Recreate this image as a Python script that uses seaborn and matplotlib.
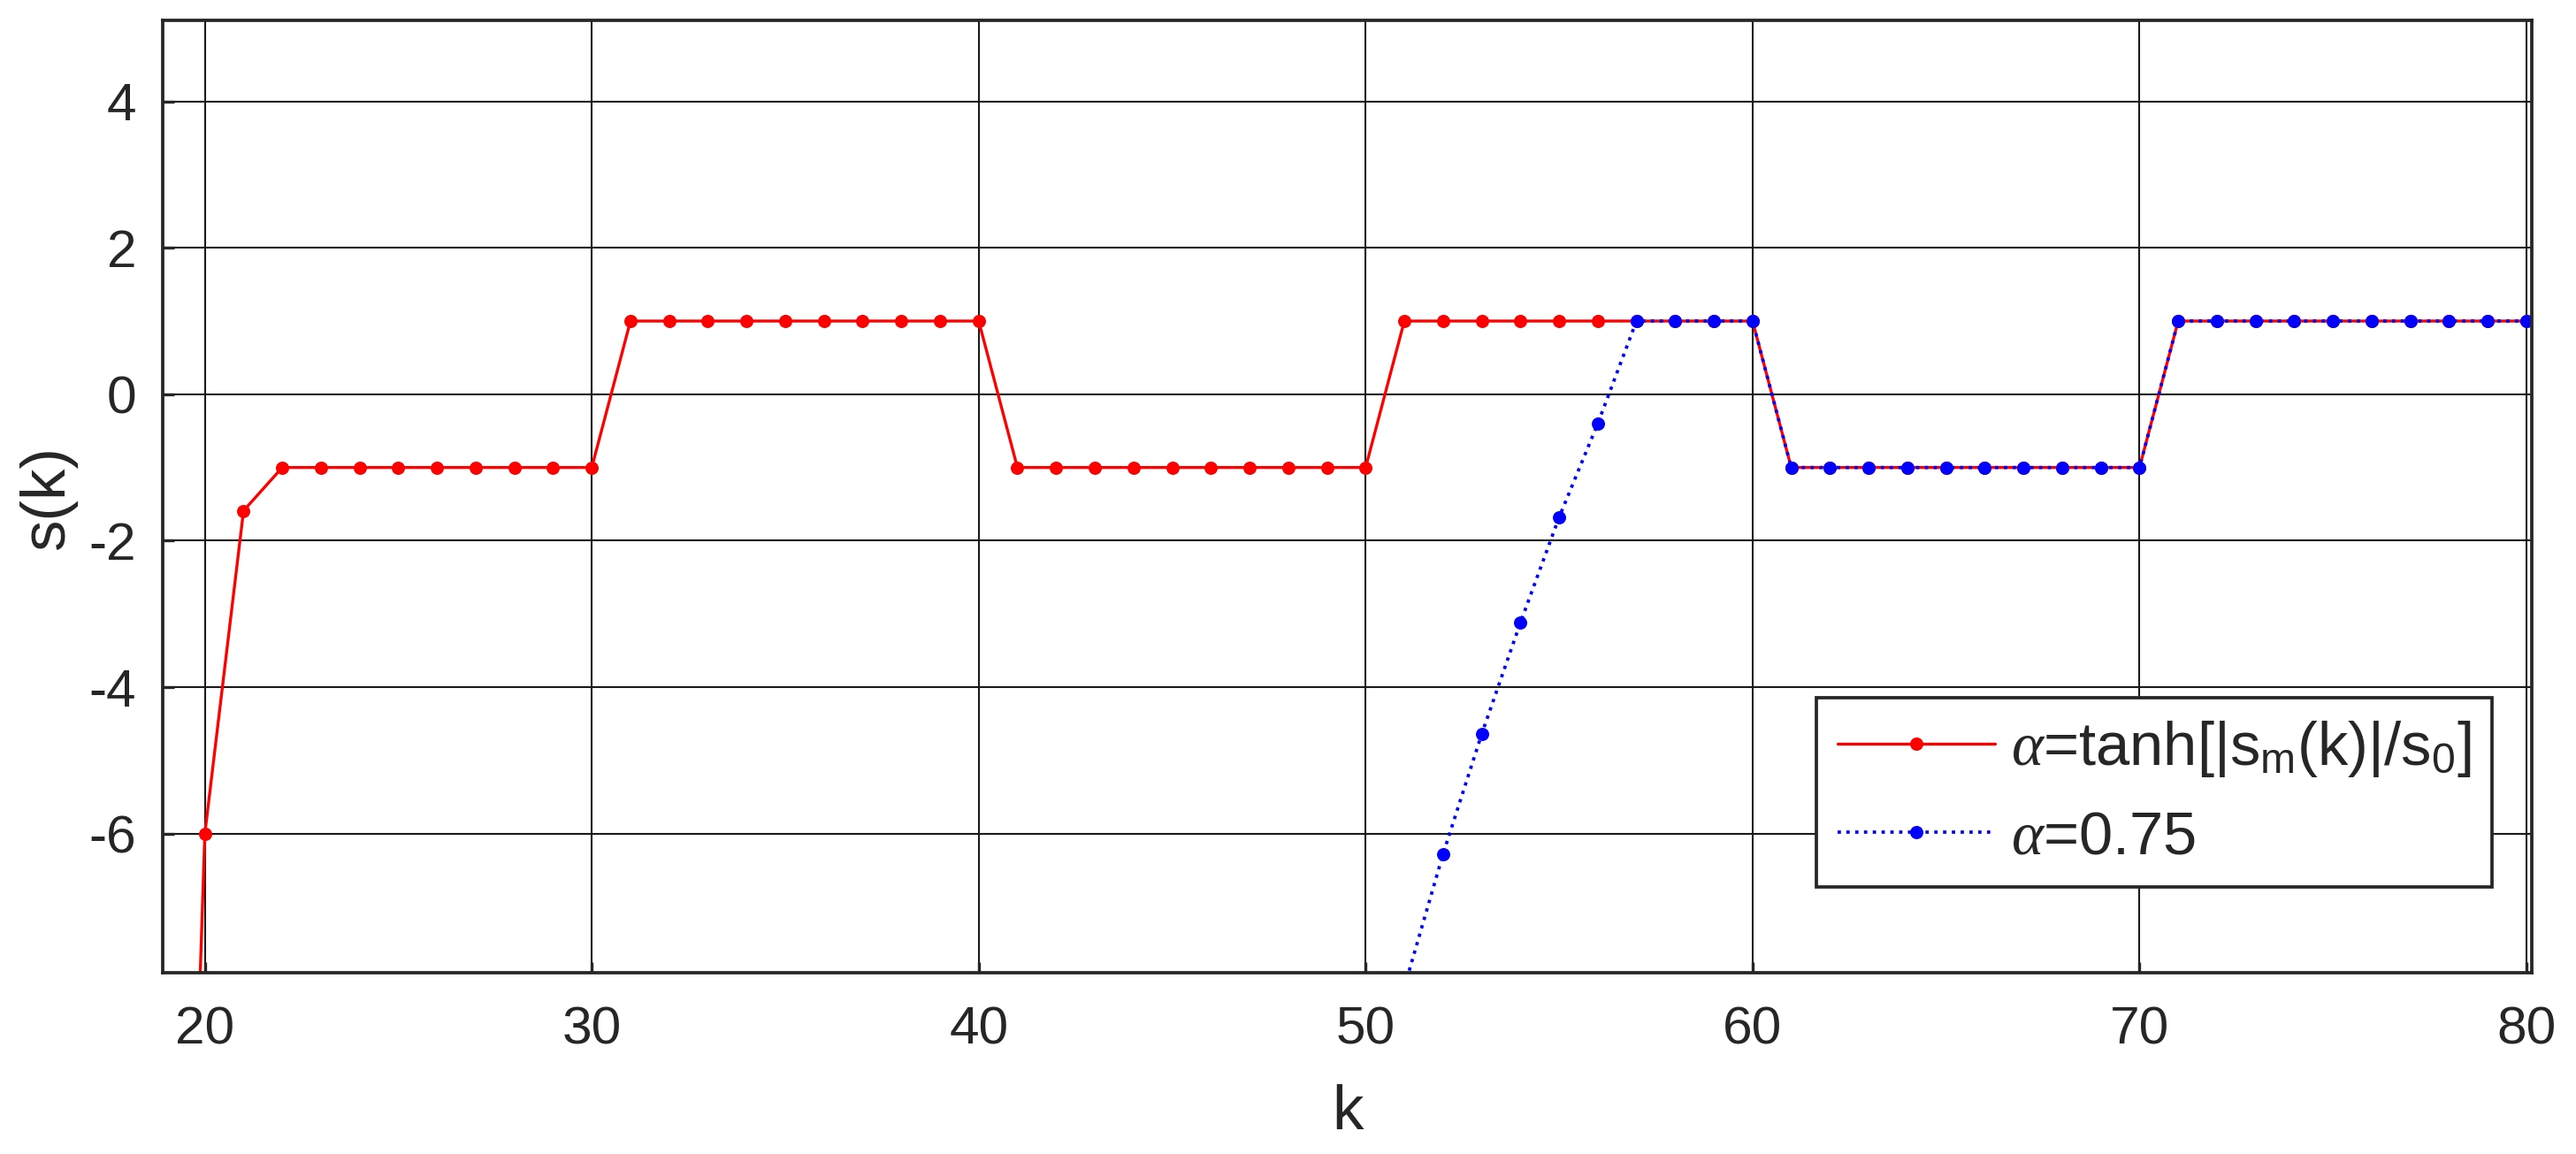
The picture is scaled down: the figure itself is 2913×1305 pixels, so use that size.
import numpy as np
import pandas as pd
import matplotlib
matplotlib.use("Agg")
import matplotlib.pyplot as plt
import seaborn as sns

# step index
k_red = list(range(19, 81))
# alpha = tanh(|s_m(k)|/s_0)
s_red = ([-22.0, -6.0, -1.59] + [-1.0] * 9 + [1.0] * 10 + [-1.0] * 10
         + [1.0] * 10 + [-1.0] * 10 + [1.0] * 10)

k_blue = list(range(51, 81))
# alpha = 0.75
s_blue = ([-8.1, -6.28, -4.64, -3.12, -1.68, -0.40] + [1.0] * 4
          + [-1.0] * 10 + [1.0] * 10)

label_red = r'$\alpha$=tanh[|s$_\mathrm{m}$(k)|/s$_\mathrm{0}$]'
label_blue = r'$\alpha$=0.75'

df_red = pd.DataFrame({'k': k_red, 's': s_red})
df_blue = pd.DataFrame({'k': k_blue, 's': s_blue})

sns.set_style('white')
plt.rcParams['font.family'] = ['Liberation Sans', 'DejaVu Sans']
plt.rcParams['mathtext.fontset'] = 'custom'
plt.rcParams['mathtext.rm'] = 'Liberation Sans'
plt.rcParams['mathtext.it'] = 'Liberation Serif:italic'
plt.rcParams['axes.unicode_minus'] = False

fig, ax = plt.subplots(figsize=(9.71, 4.35), dpi=300)
fig.subplots_adjust(left=0.063, right=0.983, top=0.982, bottom=0.157)

sns.lineplot(data=df_red, x='k', y='s', ax=ax, color='#ff0000', linewidth=0.8,
             marker='o', markersize=3.6, markeredgewidth=0, label=label_red)
sns.lineplot(data=df_blue, x='k', y='s', ax=ax, color='#0000ff', linewidth=0.9,
             linestyle=':', marker='o', markersize=3.6, markeredgewidth=0,
             label=label_blue)

ax.set_xlim(18.9, 80.15)
ax.set_ylim(-7.9, 5.1)
ax.set_xticks([20, 30, 40, 50, 60, 70, 80])
ax.set_yticks([-6, -4, -2, 0, 2, 4])
ax.grid(True, color='#1a1a1a', linewidth=0.5, linestyle='-')
ax.tick_params(direction='in', length=3, width=0.8, labelsize=14.5,
               colors='#262626', bottom=True, left=True, pad=7)
ax.tick_params(axis='x', pad=9)
for sp in ax.spines.values():
    sp.set_color('#262626')
    sp.set_linewidth(0.9)

ax.set_xlabel('k', fontsize=17, color='#262626')
ax.set_ylabel('s(k)', fontsize=17, color='#262626')
ax.xaxis.set_label_coords(0.5, -0.117)
ax.yaxis.set_label_coords(-0.036, 0.5)

leg = ax.legend(loc='lower right', bbox_to_anchor=(0.983, 0.09), fontsize=16.5,
                frameon=True, fancybox=False, edgecolor='#262626', framealpha=1,
                handlelength=2.6, handletextpad=0.25, borderpad=0.35,
                borderaxespad=0, labelspacing=0.5)
leg.get_frame().set_linewidth(0.9)

fig.savefig('out.png', dpi=300)
